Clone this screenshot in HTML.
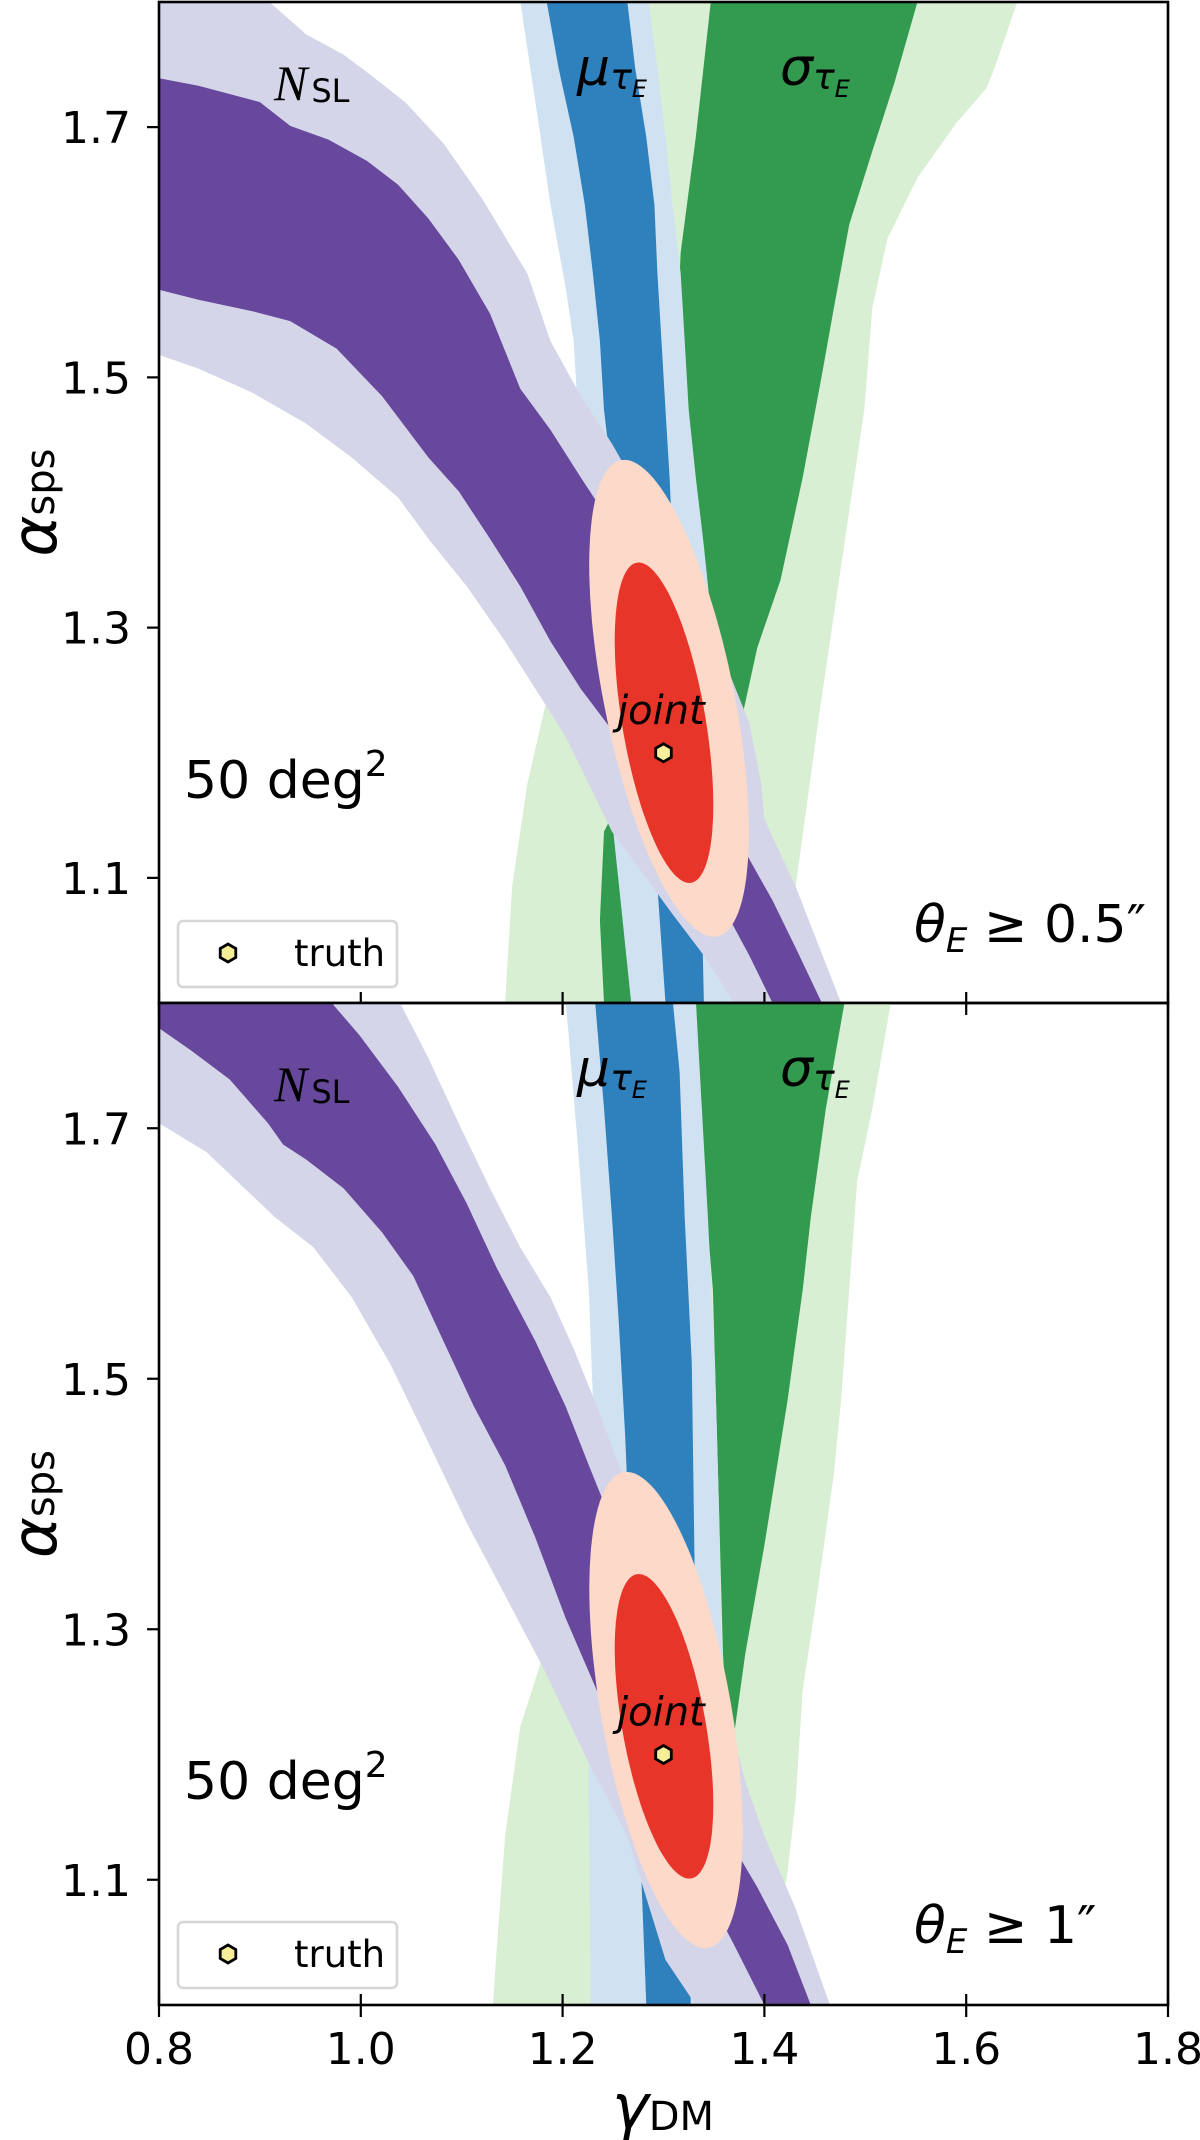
<!DOCTYPE html>
<html><head><meta charset="utf-8">
<style>
html,body{margin:0;padding:0;background:#fff;}
svg{display:block;}
text{font-family:"DejaVu Sans","Liberation Sans",sans-serif;}
</style></head>
<body>
<svg id="chart" xmlns="http://www.w3.org/2000/svg" width="1200" height="2140" viewBox="0 0 1200 2140">
<defs>
<clipPath id="clipTop"><rect x="159" y="2" width="1009" height="1001"/></clipPath>
<clipPath id="clipBot"><rect x="159" y="1003" width="1009" height="1002"/></clipPath>
</defs>
<g id="layer"></g>
</svg>
<script>
// ---------- data (gamma_DM, alpha_sps) ----------
const xTicks = [0.8, 1.0, 1.2, 1.4, 1.6, 1.8];
const xTickLabels = ["0.8", "1.0", "1.2", "1.4", "1.6", "1.8"];
const yTicks = [1.1, 1.3, 1.5, 1.7];
const yTickLabels = ["1.1", "1.3", "1.5", "1.7"];
const truthPoint = [1.30, 1.20];

// top panel (theta_E >= 0.5")
const topLightGreen = [[1.285,1.801],[1.309,1.638],[1.325,1.502],[1.309,1.393],[1.241,1.311],[1.188,1.256],[1.165,1.175],[1.150,1.093],[1.143,1.0],[1.408,1.0],[1.431,1.093],[1.454,1.229],[1.469,1.311],[1.484,1.393],[1.499,1.474],[1.507,1.556],[1.522,1.611],[1.552,1.660],[1.590,1.703],[1.620,1.731],[1.628,1.747],[1.651,1.801]];
const topGreen = [[1.347,1.801],[1.332,1.692],[1.317,1.600],[1.313,1.529],[1.321,1.447],[1.332,1.365],[1.344,1.284],[1.363,1.240],[1.272,1.186],[1.241,1.137],[1.237,1.066],[1.241,1.0],[1.272,1.0],[1.309,1.120],[1.370,1.202],[1.378,1.229],[1.393,1.284],[1.416,1.338],[1.438,1.420],[1.457,1.502],[1.469,1.556],[1.484,1.622],[1.507,1.681],[1.529,1.736],[1.552,1.801]];
const topLightBlue = [[1.158,1.801],[1.173,1.720],[1.188,1.638],[1.203,1.572],[1.211,1.529],[1.215,1.474],[1.218,1.420],[1.226,1.365],[1.234,1.311],[1.241,1.256],[1.245,1.202],[1.249,1.147],[1.256,1.093],[1.268,1.0],[1.378,1.0],[1.370,1.147],[1.363,1.202],[1.355,1.256],[1.347,1.311],[1.340,1.365],[1.332,1.420],[1.325,1.474],[1.321,1.529],[1.317,1.583],[1.309,1.638],[1.302,1.692],[1.294,1.747],[1.285,1.801]];
const topBlue = [[1.184,1.801],[1.196,1.747],[1.211,1.692],[1.222,1.638],[1.230,1.583],[1.237,1.529],[1.241,1.474],[1.249,1.420],[1.256,1.365],[1.264,1.311],[1.272,1.256],[1.279,1.202],[1.294,1.093],[1.302,1.0],[1.340,1.0],[1.336,1.147],[1.328,1.202],[1.325,1.256],[1.317,1.311],[1.309,1.365],[1.306,1.420],[1.302,1.474],[1.298,1.529],[1.294,1.583],[1.291,1.638],[1.283,1.692],[1.272,1.747],[1.264,1.801]];
const topLavender = [[0.75,1.81],[0.908,1.801],[0.946,1.774],[0.983,1.758],[1.006,1.744],[1.044,1.720],[1.082,1.687],[1.120,1.643],[1.165,1.583],[1.188,1.529],[1.218,1.485],[1.249,1.447],[1.287,1.393],[1.325,1.338],[1.355,1.284],[1.385,1.224],[1.397,1.175],[1.400,1.147],[1.431,1.093],[1.476,1.0],[1.370,1.0],[1.340,1.038],[1.309,1.071],[1.279,1.104],[1.249,1.137],[1.226,1.175],[1.203,1.213],[1.173,1.251],[1.143,1.289],[1.105,1.333],[1.067,1.371],[1.037,1.404],[0.991,1.436],[0.946,1.463],[0.892,1.488],[0.839,1.507],[0.800,1.518],[0.75,1.53]];
const topPurple = [[0.75,1.745],[0.800,1.739],[0.839,1.733],[0.900,1.720],[0.930,1.701],[0.968,1.690],[1.006,1.673],[1.037,1.654],[1.067,1.627],[1.097,1.594],[1.128,1.551],[1.158,1.491],[1.188,1.458],[1.218,1.420],[1.249,1.382],[1.287,1.327],[1.325,1.267],[1.363,1.153],[1.385,1.115],[1.408,1.082],[1.431,1.044],[1.457,1.0],[1.408,1.0],[1.385,1.038],[1.363,1.071],[1.325,1.120],[1.279,1.164],[1.249,1.218],[1.218,1.251],[1.188,1.289],[1.158,1.333],[1.128,1.371],[1.097,1.409],[1.067,1.436],[1.021,1.485],[0.976,1.523],[0.930,1.545],[0.892,1.553],[0.839,1.562],[0.800,1.570],[0.75,1.575]];
const topPinkEllipse = [1.3055, 1.2435, -0.0465, 0.1905, 0.064, 0.0065];
const topRedEllipse = [1.3005, 1.224, -0.0265, 0.128, 0.041, 0.0044];

// bottom panel (theta_E >= 1")
const botLightGreen = [[1.332,1.803],[1.347,1.571],[1.347,1.425],[1.234,1.327],[1.181,1.280],[1.158,1.222],[1.143,1.135],[1.135,1.048],[1.131,1.0],[1.400,1.0],[1.423,1.106],[1.431,1.164],[1.438,1.251],[1.454,1.338],[1.469,1.425],[1.476,1.483],[1.484,1.571],[1.492,1.658],[1.507,1.716],[1.526,1.803]];
const botGreen = [[1.332,1.803],[1.337,1.687],[1.349,1.571],[1.355,1.396],[1.359,1.280],[1.363,1.222],[1.366,1.212],[1.370,1.216],[1.381,1.280],[1.400,1.367],[1.423,1.483],[1.438,1.571],[1.446,1.629],[1.461,1.716],[1.480,1.803]];
const botLightBlue = [[1.203,1.803],[1.215,1.687],[1.226,1.571],[1.230,1.483],[1.228,1.396],[1.226,1.280],[1.226,1.164],[1.228,1.0],[1.400,1.0],[1.370,1.164],[1.358,1.280],[1.355,1.396],[1.351,1.512],[1.344,1.629],[1.336,1.745],[1.332,1.803]];
const botBlue = [[1.232,1.803],[1.241,1.716],[1.249,1.629],[1.256,1.541],[1.262,1.454],[1.268,1.338],[1.275,1.164],[1.283,1.0],[1.327,1.0],[1.328,1.164],[1.331,1.338],[1.328,1.512],[1.321,1.629],[1.316,1.745],[1.309,1.803]];
const botLavender = [[0.75,1.81],[1.037,1.803],[1.067,1.756],[1.097,1.704],[1.128,1.652],[1.158,1.605],[1.188,1.565],[1.211,1.524],[1.234,1.478],[1.256,1.431],[1.310,1.330],[1.363,1.234],[1.382,1.176],[1.400,1.135],[1.431,1.077],[1.465,1.0],[1.332,1.0],[1.302,1.036],[1.264,1.135],[1.226,1.193],[1.181,1.269],[1.143,1.327],[1.105,1.385],[1.067,1.449],[1.029,1.512],[0.991,1.565],[0.953,1.605],[0.915,1.629],[0.877,1.658],[0.847,1.681],[0.800,1.704],[0.75,1.73]];
const botPurple = [[0.75,1.81],[0.968,1.803],[0.999,1.774],[1.037,1.733],[1.074,1.687],[1.105,1.640],[1.135,1.588],[1.173,1.530],[1.203,1.478],[1.226,1.431],[1.249,1.385],[1.310,1.260],[1.363,1.135],[1.393,1.094],[1.423,1.048],[1.446,1.0],[1.400,1.0],[1.370,1.048],[1.355,1.071],[1.300,1.170],[1.234,1.251],[1.203,1.309],[1.173,1.373],[1.143,1.431],[1.112,1.478],[1.082,1.530],[1.052,1.582],[1.021,1.617],[0.983,1.652],[0.946,1.675],[0.923,1.687],[0.908,1.704],[0.870,1.739],[0.832,1.762],[0.800,1.780],[0.75,1.80]];
const botPinkEllipse = [1.3025, 1.2355, -0.041, 0.19, 0.064, 0.0065];
const botRedEllipse = [1.3005, 1.2225, -0.0265, 0.1215, 0.041, 0.0044];

// ---------- rendering ----------
const NS = "http://www.w3.org/2000/svg";
const layer = document.getElementById("layer");
const X0 = 159, X1 = 1168, XMIN = 0.8, XMAX = 1.8, YMIN = 1.0, YMAX = 1.8;
function xScale(g){ return X0 + (g - XMIN) / (XMAX - XMIN) * (X1 - X0); }
function makeY(top, bot){ return a => bot - (a - YMIN) / (YMAX - YMIN) * (bot - top); }
function mk(tag, attrs, parent){
  const e = document.createElementNS(NS, tag);
  for (const k in attrs) e.setAttribute(k, attrs[k]);
  (parent || layer).appendChild(e);
  return e;
}
function poly(pts, yS, color, parent, name){
  const d = pts.map(p => xScale(p[0]).toFixed(1) + "," + yS(p[1]).toFixed(1)).join(" ");
  const e = mk("polygon", {points: d, fill: color}, parent);
  
  
}
function ellipse(par, yS, color, parent, name){
  const pts = [];
  for (let i = 0; i < 120; i++){
    const t = i / 120 * 2 * Math.PI;
    pts.push([par[0] + par[2]*Math.cos(t) + par[4]*Math.sin(t), par[1] + par[3]*Math.cos(t) + par[5]*Math.sin(t)]);
  }
  poly(pts, yS, color, parent, name);
}
function hexagon(cx, cy, r, parent, name){
  const pts = [];
  for (let i = 0; i < 6; i++){ const t = Math.PI/2 + i*Math.PI/3; pts.push((cx + r*Math.cos(t)).toFixed(1) + "," + (cy + r*Math.sin(t)).toFixed(1)); }
  const e = mk("polygon", {points: pts.join(" "), fill: "#f6ee98", stroke: "#000", "stroke-width": 2.8}, parent);
  
  
}
function txt(x, y, s, attrs, parent, name){
  const e = mk("text", Object.assign({x: x, y: y}, attrs), parent);
  e.innerHTML = s;
  
  
  return e;
}

const colors = {lg:"#d8efd3", g:"#339b50", lb:"#d0e2f2", b:"#2f81be", lav:"#d5d5e9", pur:"#67489c", pink:"#fdd9c9", red:"#e8352a"};
const SANS = "'DejaVu Sans','Liberation Sans',sans-serif";

function panel(top, bot, clipId, d, thetaLabel, pname){
  const yS = makeY(top, bot);
  const g = mk("g", {"clip-path": "url(#" + clipId + ")"});
  
  
  poly(d.lg, yS, colors.lg, g, 'sigma-tau-2sigma-region');
  poly(d.g, yS, colors.g, g, 'sigma-tau-1sigma-region');
  poly(d.lb, yS, colors.lb, g, 'mu-tau-2sigma-region');
  poly(d.b, yS, colors.b, g, 'mu-tau-1sigma-region');
  poly(d.lav, yS, colors.lav, g, 'nsl-2sigma-region');
  poly(d.pur, yS, colors.pur, g, 'nsl-1sigma-region');
  ellipse(d.pink, yS, colors.pink, g, 'joint-2sigma-region');
  ellipse(d.red, yS, colors.red, g, 'joint-1sigma-region');
  hexagon(xScale(truthPoint[0]), yS(truthPoint[1]), 9, g, 'truth-marker');
  txt(617, yS(1.223), "joint", {"font-family": "'Liberation Serif','DejaVu Serif',serif", "font-style": "italic", "font-size": 40}, layer, 'joint-label');
  const nl = txt(274, top + 98, "", {"font-size": 50}, layer, 'nsl-label');
  nl.innerHTML = '<tspan font-family="\'Liberation Serif\',serif" font-style="italic">N</tspan><tspan font-size="32" dx="4" dy="2" font-family="' + "DejaVu Sans" + '">SL</tspan>';
  const mu = txt(577, top + 83, "", {"font-size": 52, "font-style": "italic", "font-family": SANS}, layer, 'mu-tau-label');
  mu.innerHTML = 'μ<tspan font-size="36" dy="4">τ</tspan><tspan font-size="24" dy="8">E</tspan>';
  const sg = txt(780, top + 83, "", {"font-size": 52, "font-style": "italic", "font-family": SANS}, layer, 'sigma-tau-label');
  sg.innerHTML = 'σ<tspan font-size="36" dy="4">τ</tspan><tspan font-size="24" dy="8">E</tspan>';
  const area = txt(184, top + 796, "", {"font-size": 52, "font-family": SANS}, layer, 'survey-area-label');
  area.innerHTML = '50 deg<tspan font-size="36" dy="-22">2</tspan>';
  const th = txt(914, top + 940, "", {"font-size": 52, "font-family": SANS}, layer, 'theta-cut-label');
  th.innerHTML = '<tspan font-style="italic">θ</tspan><tspan font-size="34" dy="10" font-style="italic">E</tspan><tspan dy="-10"> ≥ ' + thetaLabel + '</tspan>';
  const lg = mk("g", {});
  
  
  mk("rect", {x: 178, y: top + 919, width: 219, height: 66, rx: 5, fill: "#fff", "fill-opacity": 0.85, stroke: "#d6d6d6", "stroke-width": 2.5}, lg);
  hexagon(228, top + 951, 9, lg, 'legend-truth-marker');
  txt(294, top + 964, "truth", {"font-size": 37, "font-family": SANS}, lg, 'legend-truth-label');
  yTicks.forEach((v, i) => {
    const y = yS(v);
    const t = mk("line", {x1: X0 - 12, x2: X0, y1: y, y2: y, stroke: "#000", "stroke-width": 2.2});
    
    
    txt(131, y + 16, yTickLabels[i], {"font-size": 44, "text-anchor": "end", "font-family": SANS}, layer, 'y-tick-label');
  });
  xTicks.forEach(v => {
    const x = xScale(v);
    const t = mk("line", {x1: x, x2: x, y1: bot, y2: bot + 12, stroke: "#000", "stroke-width": 2.2});
    
    
    const t2 = mk("line", {x1: x, x2: x, y1: bot - 11, y2: bot, stroke: "#000", "stroke-width": 2.2});
    
    
  });
  const fr = mk("rect", {x: X0, y: top, width: X1 - X0, height: bot - top, fill: "none", stroke: "#000", "stroke-width": 2.6});
  
  
  const yl = txt(0, 0, "", {"font-size": 62, "font-family": SANS, transform: "translate(56," + ((top + bot) / 2) + ") rotate(-90)", "text-anchor": "middle"}, layer, 'y-axis-title');
  yl.innerHTML = '<tspan font-style="italic">α</tspan><tspan font-size="40" dy="-2">sps</tspan>';
}

panel(2, 1003, "clipTop", {lg: topLightGreen, g: topGreen, lb: topLightBlue, b: topBlue, lav: topLavender, pur: topPurple, pink: topPinkEllipse, red: topRedEllipse}, "0.5″", "top-panel");
panel(1003, 2005, "clipBot", {lg: botLightGreen, g: botGreen, lb: botLightBlue, b: botBlue, lav: botLavender, pur: botPurple, pink: botPinkEllipse, red: botRedEllipse}, "1″", "bottom-panel");

xTicks.forEach((v, i) => {
  txt(xScale(v), 2064, xTickLabels[i], {"font-size": 44, "text-anchor": "middle", "font-family": SANS}, layer, 'x-tick-label');
});
const xl = txt(663, 2128, "", {"font-size": 62, "text-anchor": "middle", "font-family": SANS}, layer, 'x-axis-title');
xl.innerHTML = '<tspan font-style="italic">γ</tspan><tspan font-size="40" dy="2">DM</tspan>';
</script>
</body></html>
